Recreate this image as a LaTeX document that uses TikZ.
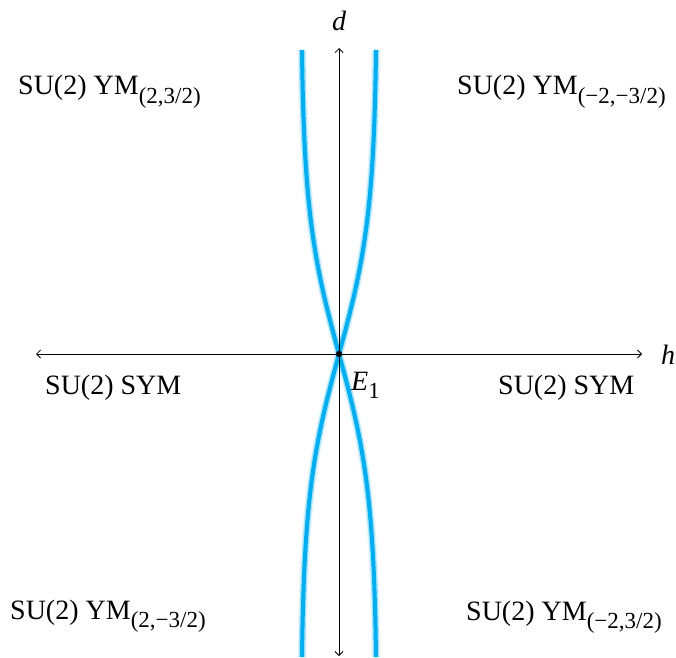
\documentclass[tikz,border=0pt]{standalone}
\usepackage{fontspec}
\setmainfont{Liberation Serif}
\usetikzlibrary{arrows.meta}
\newcommand\lbsub[1]{\raisebox{-0.3em}{\fontsize{23}{25}\selectfont #1}}
\begin{document}
\begin{tikzpicture}[x=1pt,y=1pt,
  lab/.style={anchor=base west,inner sep=0pt,font=\fontsize{28}{30}\selectfont},
  glowA/.style={line width=9pt,color=cyan!10},
  glowB/.style={line width=6.5pt,color=cyan!35!white},
  core/.style={line width=4pt,color={rgb,255:red,0;green,174;blue,239}},
  axarrow/.style={line width=0.8pt,-{Straight Barb[length=4pt,width=8pt]}}]
\useasboundingbox (0,0) rectangle (676,657);
% axes endpoints
\coordinate (O) at (339,303);
\coordinate (hl) at (36,303);
\coordinate (hr) at (642,303);
\coordinate (vt) at (339,609);
\coordinate (vb) at (339,1);
% curves
\foreach \st in {glowA,glowB,core}{
  \draw[\st] plot[domain=-303:304,samples=90,smooth,variable=\t] ({339-38*tanh(\t/140)},{303+\t});
  \draw[\st] plot[domain=-303:304,samples=90,smooth,variable=\t] ({339+38*tanh(\t/140)},{303+\t});
}
% axes
\draw[axarrow] (O) -- (hr);
\draw[axarrow] (O) -- (hl);
\draw[axarrow] (O) -- (vt);
\draw[axarrow] (O) -- (vb);
\fill (O) circle (3.2pt);
% labels
\node[font=\fontsize{28}{30}\selectfont\itshape,inner sep=0pt] (d) at (339,636) {d};
\node[font=\fontsize{28}{30}\selectfont\itshape,inner sep=0pt] (h) at (668,302) {h};
\node[lab] (E) at (351,267) {\textit{E}\lbsub{1}};
\node[lab] (tl) at (18,562) {SU(2) YM\lbsub{(2,3/2)}};
\node[lab] (tr) at (457,562) {SU(2) YM\lbsub{(−2,−3/2)}};
\node[lab] (ml) at (45,263) {SU(2) SYM};
\node[lab] (mr) at (498,263) {SU(2) SYM};
\node[lab] (bl) at (10,38) {SU(2) YM\lbsub{(2,−3/2)}};
\node[lab] (br) at (466,37) {SU(2) YM\lbsub{(−2,3/2)}};
\end{tikzpicture}
\end{document}
